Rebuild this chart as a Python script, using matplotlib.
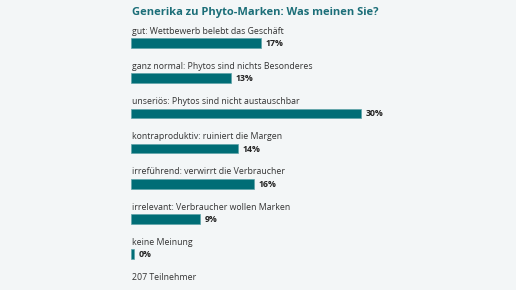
import matplotlib
matplotlib.use("Agg")
import matplotlib.pyplot as plt

title = "Generika zu Phyto-Marken: Was meinen Sie?"
labels = [
    "gut: Wettbewerb belebt das Geschäft",
    "ganz normal: Phytos sind nichts Besonderes",
    "unseriös: Phytos sind nicht austauschbar",
    "kontraproduktiv: ruiniert die Margen",
    "irreführend: verwirrt die Verbraucher",
    "irrelevant: Verbraucher wollen Marken",
    "keine Meinung",
]
values = [17, 13, 30, 14, 16, 9, 0]
footer = "207 Teilnehmer"

W, H = 516, 290
bg = "#f3f6f7"
teal = "#006d76"
fig = plt.figure(figsize=(W / 100, H / 100), dpi=100, facecolor=bg)
ax = fig.add_axes([0, 0, 1, 1], facecolor=bg)
px = 230 / 30.0  # pixels per percent
x0 = 131
ax.set_xlim(-x0 / px, (W - x0) / px)
ax.set_ylim(H, 0)
ax.axis("off")

fam = ["Open Sans", "DejaVu Sans"]
ax.text(-x0 / px + 132 / px, 12, title, fontsize=8, fontweight="bold",
        color="#1b6e78", va="center", ha="left", family=fam)

step = 35.2
for i, (lab, v) in enumerate(zip(labels, values)):
    yb = 43 + step * i
    ax.text(0.1, yb - 12, lab, fontsize=6.3, color="#333333", va="center",
            ha="left", family=fam)
    w = max(v, 0.45)
    ax.barh(yb, w, height=9.5, left=0, color=teal, edgecolor="#5fa3a9",
            linewidth=0.5)
    ax.text(w + 3 / px + 0.2, yb + 0.5, f"{v}%", fontsize=6.3, fontweight="bold",
            color="#222222", va="center", ha="left", family=fam)

ax.text(0.1, 277, footer, fontsize=6.3, color="#333333", va="center",
        ha="left", family=fam)

fig.savefig("out.png", dpi=100, facecolor=bg)
